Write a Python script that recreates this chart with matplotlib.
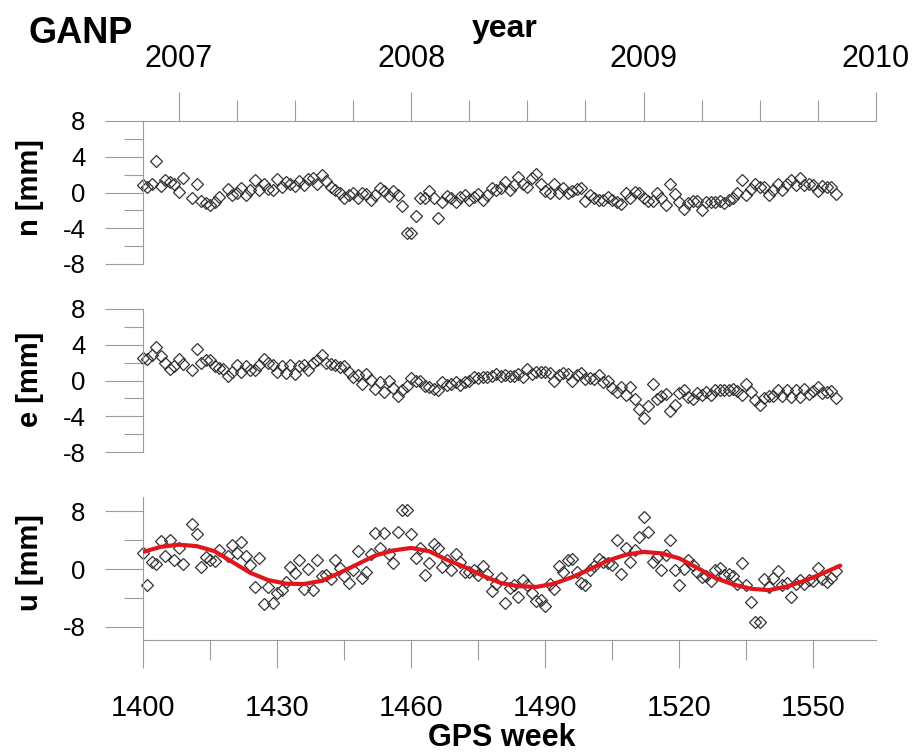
import numpy as np
import matplotlib
matplotlib.use("Agg")
import matplotlib.pyplot as plt
from matplotlib.ticker import MultipleLocator, FixedLocator, NullLocator

plt.rcParams['font.family'] = ['Liberation Sans', 'DejaVu Sans']
plt.rcParams['axes.unicode_minus'] = False

# ---------------- data ----------------
station = "GANP"
nan = np.nan
weeks = np.arange(1400, 1556)           # GPS weeks 1400 ... 1555

n_mm = [0.8, 0.65, 0.9, 3.5, 0.7, 1.4, 1.2, 0.95, 0.1, 1.6,
        nan, -0.6, 1.0, -0.95, -1.2, -1.4, -1.1, -0.47, nan, 0.4,
        -0.3, -0.1, 0.47, -0.3, 0.3, 1.4, 0.3, 0.9, 0.4, 0.3,
        1.47, 0.65, 1.2, 1.0, 0.76, 1.29, 0.84, 1.47, 1.59, 1.0,
        1.96, 1.29, 0.65, 0.3, -0.1, -0.58, -0.3, 0.0, -0.58, -0.1,
        -0.2, -0.84, -0.3, 0.54, 0.17, -0.4, 0.17, -0.3, -1.47, -4.57,
        -4.57, -2.6, -0.65, -0.65, 0.17, -0.58, -2.8, -1.1, -0.4, -0.65,
        -1.1, -0.47, -0.3, -0.84, -0.47, -0.2, -0.84, -0.3, 0.54, 0.3,
        0.5, 1.2,
        0.28, 0.84, 1.77, 1.0, 0.65, 1.59, 2.03, 1.0, 0.17, 0.0,
        1.0, 0.0, 0.47, -0.1, 0.17, 0.4, 0.47, -0.95, -0.3, -0.58,
        -0.84, -0.84, -0.47, -0.84, -1.1, -1.3, -0.1, -0.65, 0.1, 0.0,
        -0.65, -1.0, -0.95, -0.1, -0.65, -1.4, 1.0, -0.2, -1.1, -1.85,
        -1.2, -1.0, -0.95, -1.96, -1.1, -1.1, -1.1, -1.0, -1.2, -0.84,
        -0.65, 0.0, 1.4, -0.3, 0.4, 1.0, 0.65, 0.65, -0.3, 0.28,
        1.0, 0.28, 1.0, 1.4, 0.84, 1.66, 0.84, 1.0, 0.84, 0.17,
        0.76, 0.65, 0.65, -0.2]

e_mm = [2.5, 2.4, 2.8, 3.8, 2.7, 2.0, 1.3, 1.66, 2.4, 1.9,
        nan, 1.2, 3.5, 2.0, 2.26, 2.26, 1.6, 1.4, 1.3, 0.47,
        1.0, 1.77, 0.9, 1.6, 1.2, 1.2, 1.77, 2.4, 1.96, 1.77,
        1.0, 1.6, 0.84, 1.77, 0.76, 1.6, 1.77, 1.2, 1.96, 2.3,
        2.8, 2.0, 1.9, 1.77, 1.5, 1.6, 0.9, 0.4, 0.65, -0.35,
        0.76, 0.1, -0.95, -0.2, -1.3, 0.0, -0.84, -1.7, -1.1, -0.58,
        0.28, 0.0, -0.1, -0.58, -0.73, -1.0, -1.1, -0.2, -0.47, -0.35,
        -0.2, -0.47, -0.2, -0.1, 0.4, 0.28, 0.4, 0.4, 0.47, 0.76,
        0.54, 0.65,
        0.47, 0.54, 0.76, 0.4, 1.29, 0.76, 1.0, 1.0, 0.9, 0.84,
        -0.1, 0.65, 0.84, 0.76, 0.0, 0.65, 0.84, 0.17, 0.28, 0.17,
        0.65, -0.2, 0.0, -0.84, -1.3, -0.73, -1.6, -0.73, -2.07, -3.2,
        -4.2, -2.8, -0.35, -2.1, -1.7, -1.47, -3.45, -2.7, -1.4, -1.1,
        -1.85, -2.1, -1.4, -1.6, -1.3, -1.6, -1.1, -1.1, -1.1, -1.1,
        -0.95, -1.2, -1.6, -0.35, -1.3, -2.2, -2.7, -1.96, -1.7, -1.7,
        -1.1, -1.77, -1.1, -1.85, -1.1, -1.85, -0.95, -1.47, -1.2, -0.73,
        -1.4, -1.3, -1.2, -1.96]

u_mm = [2.27, -2.13, 1.0, 0.7, 3.9, 1.8, 4.0, 1.25, 2.9, 0.7,
        nan, 6.3, 4.9, 0.3, 1.7, 1.25, 1.16, 2.7, nan, 1.9,
        3.3, 2.2, 3.8, 1.9, 0.55, -2.45, 1.5, -4.8, -2.45, -4.7,
        -3.3, -2.9, -1.76, 0.3, -0.5, 1.25, -2.8, 0.1, -2.9, 1.34,
        -0.97, -0.83, -1.4, 1.25, 0.23, -0.97, -1.9, -0.05, 2.55, -1.16,
        -0.37, 2.08, 5.05, 3.0, 5.05, 2.17, 0.88, 5.2, 8.2, 8.2,
        4.9, 1.6, 3.0, -0.83, 0.8, 3.56, 3.0, 0.3, 1.25, -0.14,
        2.08, 1.0, -0.37, -0.37, -0.14, -0.83, 0.4, -0.6, -3.0, -2.0,
        -1.16, -4.7,
        -2.55, -2.2, -3.85, -1.43, -2.2, -3.3, -4.4, -4.3, -5.1, -2.0,
        -2.7, 0.4, -0.37, 1.34, 1.48, -0.37, -1.9, -2.2, -0.05, 0.4,
        1.48, 1.0, 0.88, 0.55, 4.0, -0.7, 2.87, 1.0, 2.64, 4.4,
        7.2, 5.2, 1.0, 1.7, -0.14, 1.94, 4.1, -0.05, -2.2, 0.1,
        1.34, 0.55, -0.37, -1.06, -0.97, -1.6, -0.14, 0.23, -0.83, -0.6,
        -0.97, -2.0, 0.88, -2.2, -4.5, -7.3, -7.3, -1.3, -2.45, -1.16,
        -0.23, -2.2, -1.9, -3.85, -2.08, -1.5, -2.08, -1.43, -1.6, 0.23,
        -1.3, -1.76, -1.16, -0.23]

# fitted seasonal model for u (read every 4 weeks)
fit_weeks = np.arange(1400, 1557, 4)
fit_u = [2.4, 3.1, 3.4, 3.2, 2.5, 1.0, -0.5, -1.5, -2.0, -2.05,
         -1.6, -0.5, 0.7, 1.9, 2.6, 2.95, 2.5, 1.3, 0.3, -0.9,
         -1.9, -2.35, -2.45, -2.0, -1.1, 0.0, 1.2, 2.0, 2.4, 2.2,
         1.5, 0.2, -1.2, -2.1, -2.7, -2.9, -2.4, -1.6, -0.6, 0.5]

week_range = (1400, 1564)
week_major = [1400, 1430, 1460, 1490, 1520, 1550]
week_minor = [1415, 1445, 1475, 1505, 1535]
year_ticks = [2007, 2008, 2009, 2010]
REF_WEEK, REF_YEAR, WEEKS_PER_YEAR = 1408, 2007, 52

# ---------------- figure ----------------
W, H = 914, 753
fig = plt.figure(figsize=(W / 100, H / 100), dpi=100)
GRAY = '#9c9c9c'
MK = '#333333'


def rect(l, t, r, b):
    return [l / W, 1 - b / H, (r - l) / W, (b - t) / H]


ax_n = fig.add_axes(rect(143, 121, 876, 264))
ax_e = fig.add_axes(rect(143, 309, 876, 452))
ax_u = fig.add_axes(rect(143, 497, 876, 640))


def style(ax, ylim, major, minor):
    ax.set_xlim(*week_range)
    ax.set_ylim(*ylim)
    for s in ax.spines.values():
        s.set_visible(False)
    ax.spines['left'].set_visible(True)
    ax.spines['left'].set_color(GRAY)
    ax.spines['left'].set_linewidth(0.8)
    ax.yaxis.set_major_locator(MultipleLocator(major))
    ax.yaxis.set_minor_locator(MultipleLocator(minor))
    ax.tick_params(axis='y', which='major', direction='out', length=27.4,
                   width=0.8, color=GRAY, pad=14, labelsize=18.5)
    ax.tick_params(axis='y', which='minor', direction='out', length=13.7,
                   width=0.8, color=GRAY)
    ax.xaxis.set_major_locator(NullLocator())
    ax.xaxis.set_minor_locator(NullLocator())
    ax.patch.set_alpha(0)


for ax, vals in ((ax_n, n_mm), (ax_e, e_mm), (ax_u, u_mm)):
    ax.plot(weeks, vals, linestyle='none', marker='D', markersize=6.0,
            markerfacecolor='none', markeredgecolor=MK, markeredgewidth=0.9,
            zorder=2, clip_on=False)

ax_u.plot(fit_weeks, fit_u, color='#e0161c', linewidth=3.0, zorder=3,
          solid_capstyle='round', solid_joinstyle='round')

style(ax_n, (-8, 8), 4, 2)
style(ax_e, (-8, 8), 4, 2)
style(ax_u, (-9.8, 10), 8, 4)

# bottom GPS-week axis
ax_u.spines['bottom'].set_visible(True)
ax_u.spines['bottom'].set_color(GRAY)
ax_u.spines['bottom'].set_linewidth(0.8)
ax_u.xaxis.set_major_locator(FixedLocator(week_major))
ax_u.xaxis.set_minor_locator(FixedLocator(week_minor))
ax_u.set_xticklabels([str(w) for w in week_major])
ax_u.tick_params(axis='x', which='major', direction='out', length=20.2,
                 width=0.8, color=GRAY, pad=19, labelsize=21)
ax_u.tick_params(axis='x', which='minor', direction='out', length=14.4,
                 width=0.8, color=GRAY)


# top year axis
def w2y(w):
    return REF_YEAR + (np.asarray(w) - REF_WEEK) / WEEKS_PER_YEAR


def y2w(y):
    return REF_WEEK + (np.asarray(y) - REF_YEAR) * WEEKS_PER_YEAR


sec = ax_n.secondary_xaxis('top', functions=(w2y, y2w))
sec.set_xticks(year_ticks)
sec.set_xticklabels([str(y) for y in year_ticks])
sec.xaxis.set_minor_locator(MultipleLocator(0.25))
sec.spines['top'].set_color(GRAY)
sec.spines['top'].set_linewidth(0.8)
sec.tick_params(axis='x', which='major', direction='out', length=20.9,
                width=0.8, color=GRAY, pad=13, labelsize=22)
sec.tick_params(axis='x', which='minor', direction='out', length=15,
                width=0.8, color=GRAY)


def px(x, y):
    return x / W, 1 - y / H


fig.text(*px(29, 43), station, fontsize=26, fontweight='bold',
         ha='left', va='baseline')
fig.text(*px(505, 37), 'year', fontsize=23, fontweight='bold',
         ha='center', va='baseline')
fig.text(*px(502, 746), 'GPS week', fontsize=22, fontweight='bold',
         ha='center', va='baseline')
for lab, yc in (('n [mm]', 188), ('e [mm]', 379), ('u [mm]', 563)):
    fig.text(*px(30, yc), lab, fontsize=21, fontweight='bold',
             rotation=90, ha='center', va='center')

fig.savefig('out.png', dpi=100)
